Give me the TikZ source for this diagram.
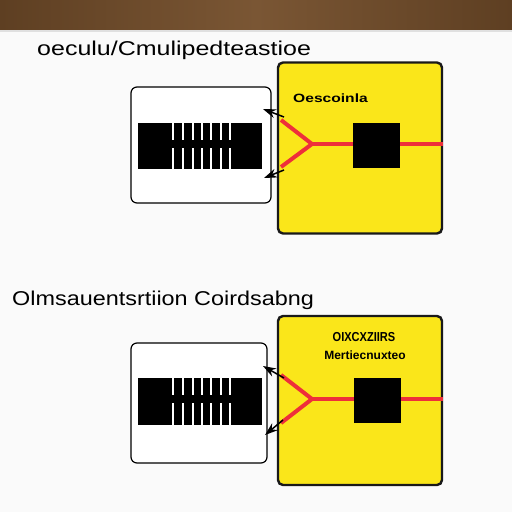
\documentclass[tikz,border=0pt]{standalone}
\usepackage{fontspec}
\setmainfont{Liberation Sans}
\usetikzlibrary{arrows.meta}
\definecolor{bar}{HTML}{5E3F22}
\definecolor{barmid}{HTML}{7A5634}
\definecolor{ylw}{HTML}{FAE61A}
\definecolor{rd}{HTML}{EE2F3A}
\definecolor{bg}{HTML}{FAFAFA}
\tikzset{
  whitebox/.style={draw=black, line width=1.2pt, fill=white, rounded corners=6pt, inner sep=0pt},
  yellowbox/.style={draw=black!90, line width=2.4pt, fill=ylw, rounded corners=5pt, inner sep=0pt},
  blacksq/.style={fill=black, inner sep=0pt},
  redline/.style={draw=rd, line width=4pt},
  tiparrow/.style={black, line width=1.5pt, -{Stealth[length=13pt,width=9pt]}},
  titletext/.style={font=\fontsize{20}{22}\selectfont, inner sep=0pt, anchor=west},
  boxtext/.style={font=\bfseries\fontsize{12}{14}\selectfont, inner sep=0pt},
}
\newcommand{\barcode}[3]{% x0, ytop, ybottom
  \fill[black] (#1,#2) rectangle ++(124,#3-#2);
  \foreach \g in {34,44,54,63,72,82,91}{
    \fill[white] (#1+\g,#2-1) rectangle ++(2.4,17+1);
    \fill[white] (#1+\g,#2+25) rectangle ++(2.4,#3-#2-25+1);
  }
}
\begin{document}
\begin{tikzpicture}[x=1pt,y=-1pt]
\useasboundingbox (0,0) rectangle (512,512);
\fill[bg] (0,0) rectangle (512,512);
\shade[left color=bar, right color=bar, middle color=barmid] (0,0) rectangle (512,30);
\fill[black!12] (0,30) rectangle (512,31.5);

% ---------- panel 1
\node[titletext] (t1) at (37,50) {\scalebox{1.25}[1]{oeculu/Cmulipedteastioe}};
\node[whitebox, minimum width=140pt, minimum height=116pt] (wb1) at (201,145) {};
\node[yellowbox, minimum width=164pt, minimum height=171pt] (yb1) at (360,148) {};
\node[boxtext, anchor=west] (l1) at (293,98) {\scalebox{1.3}[1]{Oescoinla}};
\barcode{138}{123}{169}
\node[blacksq, minimum width=47pt, minimum height=45pt] (sq1) at (376.5,145.5) {};
\coordinate (j1) at (312,144);
\coordinate (a1) at (281,120);
\coordinate (b1) at (281,167);
\coordinate (e1) at (yb1.east |- j1);
\draw[redline] (a1) -- (j1) -- (b1);
\draw[redline] (j1) -- (sq1.west |- j1);
\draw[redline] (sq1.east |- j1) -- (e1);
\coordinate (ta1) at (284,117);
\coordinate (tb1) at (284,170);
\coordinate (wa1) at (263,109);
\coordinate (wb1t) at (264,178);
\draw[tiparrow] (ta1) -- (wa1);
\draw[tiparrow] (tb1) -- (wb1t);

% ---------- panel 2
\node[titletext] (t2) at (12,300) {\scalebox{1.17}[1]{Olmsauentsrtiion Coirdsabng}};
\node[whitebox, minimum width=136pt, minimum height=120pt] (wb2) at (199,403) {};
\node[yellowbox, minimum width=164pt, minimum height=169pt] (yb2) at (360,400.5) {};
\node[boxtext, font=\bfseries\fontsize{13}{15}\selectfont] (l2) at (364,337) {\scalebox{0.85}[1]{OIXCXZIIRS}};
\node[boxtext] (l3) at (365,355) {\scalebox{1.0}[1]{Mertiecnuxteo}};
\barcode{138}{378}{425}
\node[blacksq, minimum width=47pt, minimum height=45pt] (sq2) at (377.5,400.5) {};
\coordinate (j2) at (312,399);
\coordinate (a2) at (281,375);
\coordinate (b2) at (281,423);
\coordinate (e2) at (yb2.east |- j2);
\draw[redline] (a2) -- (j2) -- (b2);
\draw[redline] (j2) -- (sq2.west |- j2);
\draw[redline] (sq2.east |- j2) -- (e2);
\coordinate (ta2) at (284,378);
\coordinate (tb2) at (283,420);
\coordinate (wa2) at (263,366);
\coordinate (wb2t) at (265,435);
\draw[tiparrow] (ta2) -- (wa2);
\draw[tiparrow] (tb2) -- (wb2t);
\end{tikzpicture}
\end{document}
